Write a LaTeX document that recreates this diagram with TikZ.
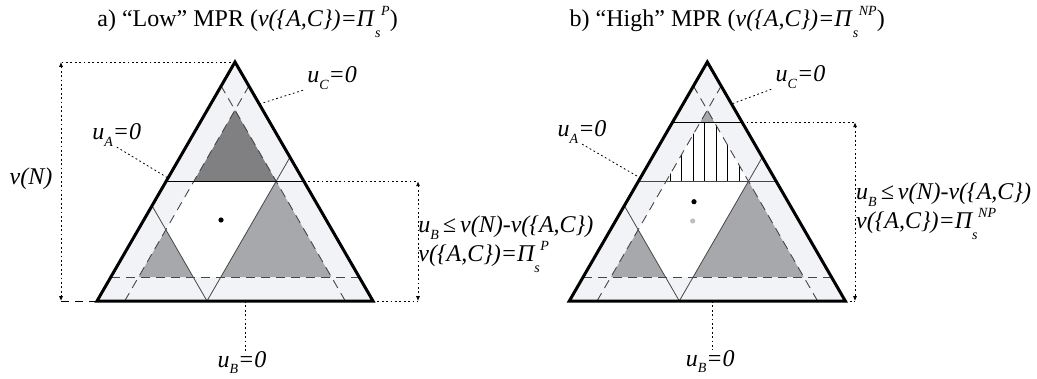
\documentclass[tikz,border=0pt]{standalone}
\usepackage{fontspec}
\setmainfont{Liberation Serif}
\usetikzlibrary{arrows.meta,positioning,calc}
\definecolor{mpband}{RGB}{242,243,246}
\definecolor{mpdark}{RGB}{128,128,130}
\definecolor{mpmid}{RGB}{167,168,172}
\definecolor{mpdot}{RGB}{190,190,190}
\definecolor{mpgray}{RGB}{70,70,70}
\newcommand{\ssub}[1]{\raisebox{-0.28em}{\scriptsize\itshape #1}}
\newcommand{\sbsp}[2]{\rlap{\raisebox{-0.42em}{\scriptsize\itshape #1}}\raisebox{0.48em}{\kern0.25em\scriptsize\itshape #2}}

\begin{document}
\begin{tikzpicture}[
  x=0.5pt, y=-0.5pt,
  rim/.style={line width=1.5pt},
  chord/.style={mpgray, line width=0.45pt, dash pattern=on 4.5pt off 3pt},
  vline/.style={mpgray, line width=0.4pt},
  hline/.style={black, line width=0.7pt},
  hatchline/.style={black, line width=0.55pt},
  leader/.style={black, line width=0.4pt, dash pattern=on 0.9pt off 1.3pt},
  dashline/.style={black, line width=0.5pt, dash pattern=on 4pt off 3pt},
  dimline/.style={leader, {Latex[length=2.4pt,width=2pt]}-{Latex[length=2.4pt,width=2pt]}},
  lbl/.style={font=\fontsize{12}{12}\selectfont\itshape, inner sep=0pt},
  ttl/.style={font=\fontsize{12}{14}\selectfont, inner sep=0pt, anchor=base west}
]
\useasboundingbox (0,0) rectangle (1037,379);

%% a) Low MPR
\begin{scope}[shift={(97,0)}]
% Outer and inner triangle
\coordinate (a-bl) at (0,301);
\coordinate (a-br) at (276,301);
\coordinate (a-top) at (138,62);
\fill[mpband] (a-bl) -- (a-top) -- (a-br) -- cycle;
\fill[white] (41.6,277) -- (138,110) -- (234.4,277) -- cycle;

% Shaded regions
\fill[mpdark] (96.8,181.3) -- (138,110) -- (179.2,181.3) -- cycle;
\fill[mpmid] (41.6,277) -- (68.9,229.8) -- (96.1,277) -- cycle;
\fill[mpmid] (123.9,277) -- (179.1,181.3) -- (234.4,277) -- cycle;

% Dashed and thin lines
\draw[chord] (13.9,277) -- (262.1,277);
\draw[chord] (27.7,301) -- (151.9,86);
\draw[chord] (248.3,301) -- (124.1,86);
\draw[vline] (55,205.7) -- (110,301) -- (193,157.2);
\draw[hline] (69.1,181.3) coordinate (a-hl) -- (206.9,181.3) coordinate (a-hr);
\draw[rim] (a-bl) -- (a-top) -- (a-br) -- cycle;
\fill (124,220) circle (2.6);

% Labels
\node[ttl] (a-title) at (0,27) {a) “Low” MPR (\textit{v(\{A,C\})=Π}\sbsp{s}{P})};
\node[lbl, anchor=base west, inner xsep=2pt] (a-uc) at (206,83) {u\ssub{C}=0};
\node[lbl, anchor=base west] (a-ua) at (-5,140) {u\ssub{A}=0};
\node[lbl, anchor=base] (a-ub) at (145,367) {u\ssub{B}=0};
\node[lbl] (a-vn) at (-66,179) {v(N)};
\node[lbl, anchor=west, align=left] (a-cond) at (321,244) {u\ssub{B}\,≤\,v(N)-v(\{A,C\})\\v(\{A,C\})=Π\sbsp{s}{P}};

% Leaders and dimensions
\coordinate (a-ucp) at (162.3,104);
\coordinate (a-uap) at (71,178);
\coordinate (a-ubp) at (148,301);
\coordinate (a-dl1) at (-36,62);
\coordinate (a-dl2) at (-36,301);
\coordinate (a-dr1) at (321,181.3);
\coordinate (a-dr2) at (321,301);
\draw[leader] (a-uc.south west) -- (a-ucp);
\draw[leader] (a-ua.south) -- (a-uap);
\draw[leader] (a-ubp) -- (a-ubp |- a-ub.north);
\draw[leader] (a-top) -- (a-dl1);
\draw[dashline] (a-bl) -- (a-dl2);
\draw[dimline] (a-dl1) -- (a-dl2);
\draw[leader] (a-hr) -- (a-dr1);
\draw[leader] (a-br) -- (a-dr2);
\draw[dimline] (a-dr1) -- (a-dr2);
\end{scope}

%% b) High MPR
\begin{scope}[shift={(569.3,0)}]
% Outer and inner triangle
\coordinate (b-bl) at (0,301);
\coordinate (b-br) at (276,301);
\coordinate (b-top) at (138,62);
\fill[mpband] (b-bl) -- (b-top) -- (b-br) -- cycle;
\fill[white] (41.6,277) -- (138,110) -- (234.4,277) -- cycle;

% Shaded regions
\fill[mpmid] (130.9,122.3) -- (138,110) -- (145.1,122.3) -- cycle;
\fill[mpmid] (41.6,277) -- (68.9,229.8) -- (96.1,277) -- cycle;
\fill[mpmid] (123.9,277) -- (179.1,181.3) -- (234.4,277) -- cycle;

% Hatched band
\begin{scope}
\clip (130.9,122.3) -- (145.1,122.3) -- (179.2,181.3) -- (96.8,181.3) -- cycle;
\draw[hatchline] (101,110) -- (101,182) (112.5,110) -- (112.5,182)
  (124,110) -- (124,182) (135.5,110) -- (135.5,182) (147,110) -- (147,182)
  (158.5,110) -- (158.5,182) (170,110) -- (170,182);
\end{scope}

% Dashed and thin lines
\draw[chord] (13.9,277) -- (262.1,277);
\draw[chord] (27.7,301) -- (151.9,86);
\draw[chord] (248.3,301) -- (124.1,86);
\draw[vline] (55,205.7) -- (110,301) -- (193,157.2);
\draw[vline, line width=0.5pt] (69.1,181.3) -- (206.9,181.3);
\draw[hline] (103.2,122.3) coordinate (b-gl) -- (172.8,122.3) coordinate (b-gr);
\draw[rim] (b-bl) -- (b-top) -- (b-br) -- cycle;
\fill (124.7,201.7) circle (2.6);
\fill[mpdot] (123.4,221) circle (2.6);

% Labels
\node[ttl] (b-title) at (0,27) {b) “High” MPR (\textit{v(\{A,C\})=Π}\sbsp{s}{NP})};
\node[lbl, anchor=base west, inner xsep=2pt] (b-uc) at (202,82) {u\ssub{C}=0};
\node[lbl, anchor=base west] (b-ua) at (-12,137) {u\ssub{A}=0};
\node[lbl, anchor=base] (b-ub) at (141,366) {u\ssub{B}=0};
\node[lbl, anchor=west, align=left] (b-cond) at (286.5,211) {u\ssub{B}\,≤\,v(N)-v(\{A,C\})\\v(\{A,C\})=Π\sbsp{s}{NP}};

% Leaders and dimension
\coordinate (b-ucp) at (162.3,104);
\coordinate (b-uap) at (71,178);
\coordinate (b-ubp) at (143.4,301);
\coordinate (b-dr1) at (285.7,122.3);
\coordinate (b-dr2) at (285.7,301);
\draw[leader] (b-uc.south west) -- (b-ucp);
\draw[leader] (b-ua.south) -- (b-uap);
\draw[leader] (b-ubp) -- (b-ubp |- b-ub.north);
\draw[leader] (b-gr) -- (b-dr1);
\draw[leader] (b-br) -- (b-dr2);
\draw[dimline] (b-dr1) -- (b-dr2);
\end{scope}

\end{tikzpicture}
\end{document}
